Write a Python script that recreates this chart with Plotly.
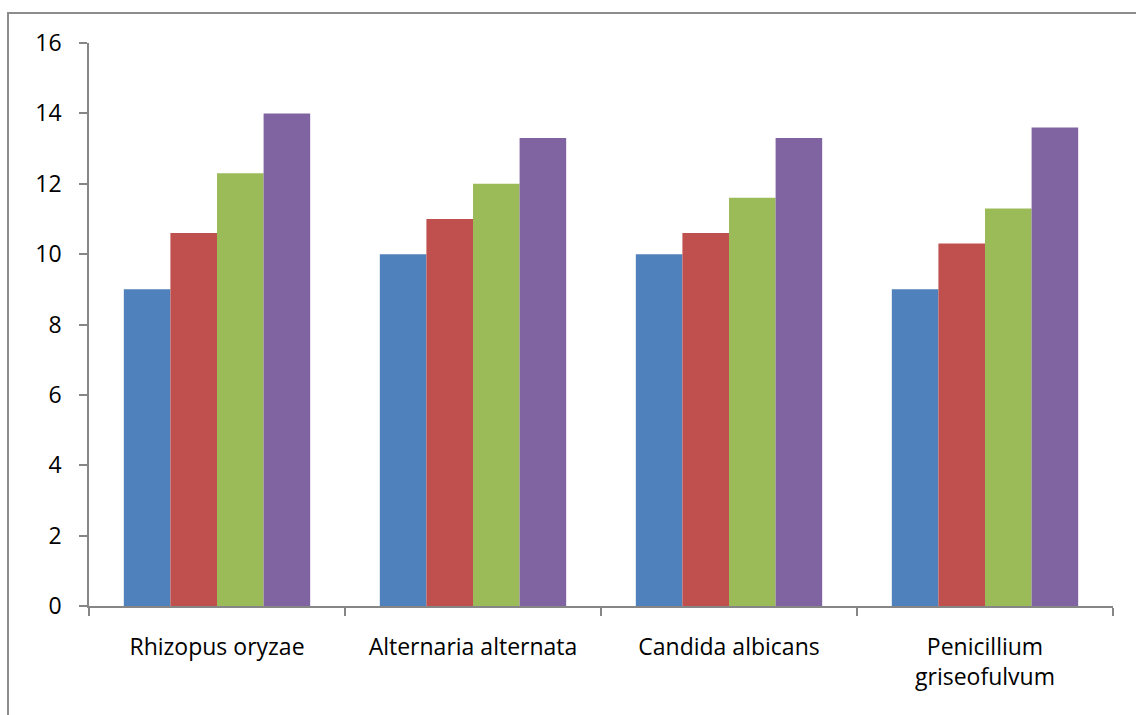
import plotly.graph_objects as go

categories = ["Rhizopus oryzae", "Alternaria alternata", "Candida albicans", "Penicillium<br>griseofulvum"]
series_names = ["Series 1", "Series 2", "Series 3", "Series 4"]
s1 = [9, 10, 10, 9]
s2 = [10.6, 11, 10.6, 10.3]
s3 = [12.3, 12, 11.6, 11.3]
s4 = [14, 13.3, 13.3, 13.6]
colors = ["#4F81BD", "#C0504D", "#9BBB59", "#8064A2"]
y_ticks = [0, 2, 4, 6, 8, 10, 12, 14, 16]

fig = go.Figure()
for name, vals, col in zip(series_names, [s1, s2, s3, s4], colors):
    fig.add_trace(go.Bar(x=categories, y=vals, name=name, marker=dict(color=col, line=dict(width=0))))

axis_col = "#868686"
font_family = "'Open Sans', sans-serif"
fig.update_layout(
    width=1136, height=715,
    margin=dict(l=89, r=23, t=43, b=109),
    paper_bgcolor="white", plot_bgcolor="white",
    barmode="group", bargap=0.272, bargroupgap=0,
    showlegend=False,
    font=dict(family=font_family, size=23, color="black"),
    xaxis=dict(showline=True, linecolor=axis_col, linewidth=1.5, ticks="outside", tickson="boundaries",
               ticklen=8, tickcolor=axis_col, tickwidth=1.5, showgrid=False, ticklabelstandoff=20,
               tickfont=dict(size=23)),
    yaxis=dict(range=[0, 16], tickvals=y_ticks, showline=True, linecolor=axis_col, linewidth=1.5,
               ticks="outside", ticklen=8, tickcolor=axis_col, tickwidth=1.5, showgrid=False,
               zeroline=False, ticklabelstandoff=13, tickfont=dict(size=23)),
    shapes=[dict(type="rect", xref="paper", yref="paper", x0=-0.0791, x1=1.1, y0=-0.5, y1=1.0533,
                 line=dict(color="#8C8C8C", width=2), layer="below")],
)

fig.write_html("out.html", config={"displayModeBar": False},
               post_script="document.body.style.margin='0';document.body.style.overflow='hidden';")
